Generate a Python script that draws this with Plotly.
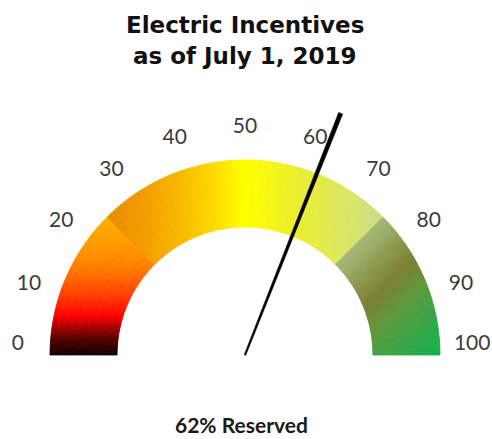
import numpy as np
import plotly.graph_objects as go

# ---------------- data ----------------
TITLE_LINES = ["Electric Incentives", "as of July 1, 2019"]
CAPTION = "62% Reserved"
NEEDLE_VALUE = 62
SCALE_MIN, SCALE_MAX = 0, 100
TICK_VALUES = [0, 10, 20, 30, 40, 50, 60, 70, 80, 90, 100]
TICK_LABELS = ["0", "10", "20", "30", "40", "50", "60", "70", "80", "90", "100"]
BAND_EDGES = [0, 25, 75, 100]

# band 1 (0-25): vertical gradient; stop = height above the base line (outer radius = 1)
BAND1_POS = [0.00, 0.08, 0.15, 0.20, 0.30, 0.40, 0.50, 0.62, 0.71]
BAND1_COLORS = ["#120000", "#500000", "#b00000", "#ff0000", "#ff3a00",
                "#ff6a00", "#ff8c00", "#ffa200", "#ffb000"]
# band 2 (25-75): horizontal gradient; stop = horizontal offset from the centre
BAND2_POS = [-0.71, -0.487, -0.318, -0.144, 0.0, 0.103, 0.256, 0.426, 0.60, 0.71]
BAND2_COLORS = ["#ea8a00", "#f4a000", "#f9bb00", "#fedc00", "#ffff00",
                "#f8f810", "#ebef2c", "#e0ea50", "#d4e274", "#c8dc8c"]
# band 3 (75-100): diagonal gradient; stop = x - y offset
BAND3_POS = [0.0, 0.08, 0.20, 0.37, 0.55, 0.75, 1.0]
BAND3_COLORS = ["#a6b878", "#9cb06c", "#8c9a4e", "#7c7e34", "#5e983c",
                "#3aa446", "#12b050"]

# ---------------- geometry / style ----------------
R_IN, R_OUT = 0.656, 1.0
R_LABEL = 1.165
R_NEEDLE = 1.333


def theta(v):
    return np.pi * (1 - (v - SCALE_MIN) / (SCALE_MAX - SCALE_MIN))


def hex2rgb(h):
    h = h.lstrip("#")
    return np.array([int(h[i:i + 2], 16) for i in (0, 2, 4)], dtype=float)


def grad(pos, cols, t):
    rgb = np.array([hex2rgb(c) for c in cols])
    out = [np.interp(t, pos, rgb[:, k]) for k in range(3)]
    q = [int(min(255, max(0, round(c / 3) * 3))) for c in out]
    return "#%02x%02x%02x" % tuple(q)


def cell_color(v, x, y):
    if v < BAND_EDGES[1]:
        return grad(BAND1_POS, BAND1_COLORS, y)
    if v < BAND_EDGES[2]:
        return grad(BAND2_POS, BAND2_COLORS, x)
    return grad(BAND3_POS, BAND3_COLORS, x - y)


groups = {}
v_steps = np.arange(SCALE_MIN, SCALE_MAX + 1e-9, 0.5)
r_steps = np.linspace(R_IN, R_OUT, 10)
for a, b in zip(v_steps[:-1], v_steps[1:]):
    ta, tb = theta(a), theta(b)
    tm = theta((a + b) / 2)
    for r0, r1 in zip(r_steps[:-1], r_steps[1:]):
        rm = (r0 + r1) / 2
        col = cell_color((a + b) / 2, rm * np.cos(tm), rm * np.sin(tm))
        xs = [r0 * np.cos(ta), r1 * np.cos(ta), r1 * np.cos(tb), r0 * np.cos(tb), r0 * np.cos(ta)]
        ys = [r0 * np.sin(ta), r1 * np.sin(ta), r1 * np.sin(tb), r0 * np.sin(tb), r0 * np.sin(ta)]
        g = groups.setdefault(col, ([], []))
        g[0].extend(xs + [None])
        g[1].extend(ys + [None])

fig = go.Figure()
for col, (xs, ys) in groups.items():
    fig.add_trace(go.Scatter(x=xs, y=ys, mode="lines", fill="toself", fillcolor=col,
                             line=dict(color=col, width=0.8), hoverinfo="skip",
                             showlegend=False))

# tick labels
tv = np.array(TICK_VALUES, dtype=float)
fig.add_trace(go.Scatter(
    x=R_LABEL * np.cos(theta(tv)), y=R_LABEL * np.sin(theta(tv)),
    mode="text", text=TICK_LABELS,
    textposition=["top center" if v in (SCALE_MIN, SCALE_MAX) else "middle center" for v in TICK_VALUES],
    textfont=dict(family="Lato", size=21, color="#3b3b3b"),
    cliponaxis=False, hoverinfo="skip", showlegend=False))

# needle (tapered)
tn = theta(NEEDLE_VALUE)
ux, uy = np.cos(tn), np.sin(tn)
px, py = -uy, ux
w0, w1 = 0.004, 0.011
nx = [w0 * px, R_NEEDLE * ux + w1 * px, R_NEEDLE * ux - w1 * px, -w0 * px, w0 * px]
ny = [w0 * py, R_NEEDLE * uy + w1 * py, R_NEEDLE * uy - w1 * py, -w0 * py, w0 * py]
fig.add_trace(go.Scatter(x=nx, y=ny, mode="lines", fill="toself", fillcolor="#000000",
                         line=dict(color="#000000", width=0.6), hoverinfo="skip",
                         showlegend=False, cliponaxis=False))

W, H = 492, 439
CX, CY, S = 245, 355, 195  # centre pixel and pixels per unit
fig.update_layout(
    width=W, height=H, autosize=False,
    margin=dict(l=0, r=0, t=0, b=0, pad=0),
    paper_bgcolor="white", plot_bgcolor="white",
    xaxis=dict(range=[-CX / S, (W - CX) / S], visible=False, fixedrange=True),
    yaxis=dict(range=[(CY - H) / S, CY / S], visible=False, fixedrange=True),
    showlegend=False,
    annotations=[
        dict(text="<b>%s</b>" % TITLE_LINES[0], xref="paper", yref="paper",
             x=CX / W, y=1 - 25 / H, xanchor="center", yanchor="middle", showarrow=False,
             font=dict(family="DejaVu Sans", size=23, color="#111111")),
        dict(text="<b>%s</b>" % TITLE_LINES[1], xref="paper", yref="paper",
             x=CX / W, y=1 - 56 / H, xanchor="center", yanchor="middle", showarrow=False,
             font=dict(family="DejaVu Sans", size=23, color="#111111")),
        dict(text="<b>%s</b>" % CAPTION, xref="paper", yref="paper",
             x=241 / W, y=0, xanchor="center", yanchor="bottom", showarrow=False,
             font=dict(family="Lato", size=21, color="#1a1a1a")),
    ],
)

fig.write_html("out.html", config={"displayModeBar": False},
               post_script="document.body.style.margin='0';document.body.style.overflow='hidden';")
